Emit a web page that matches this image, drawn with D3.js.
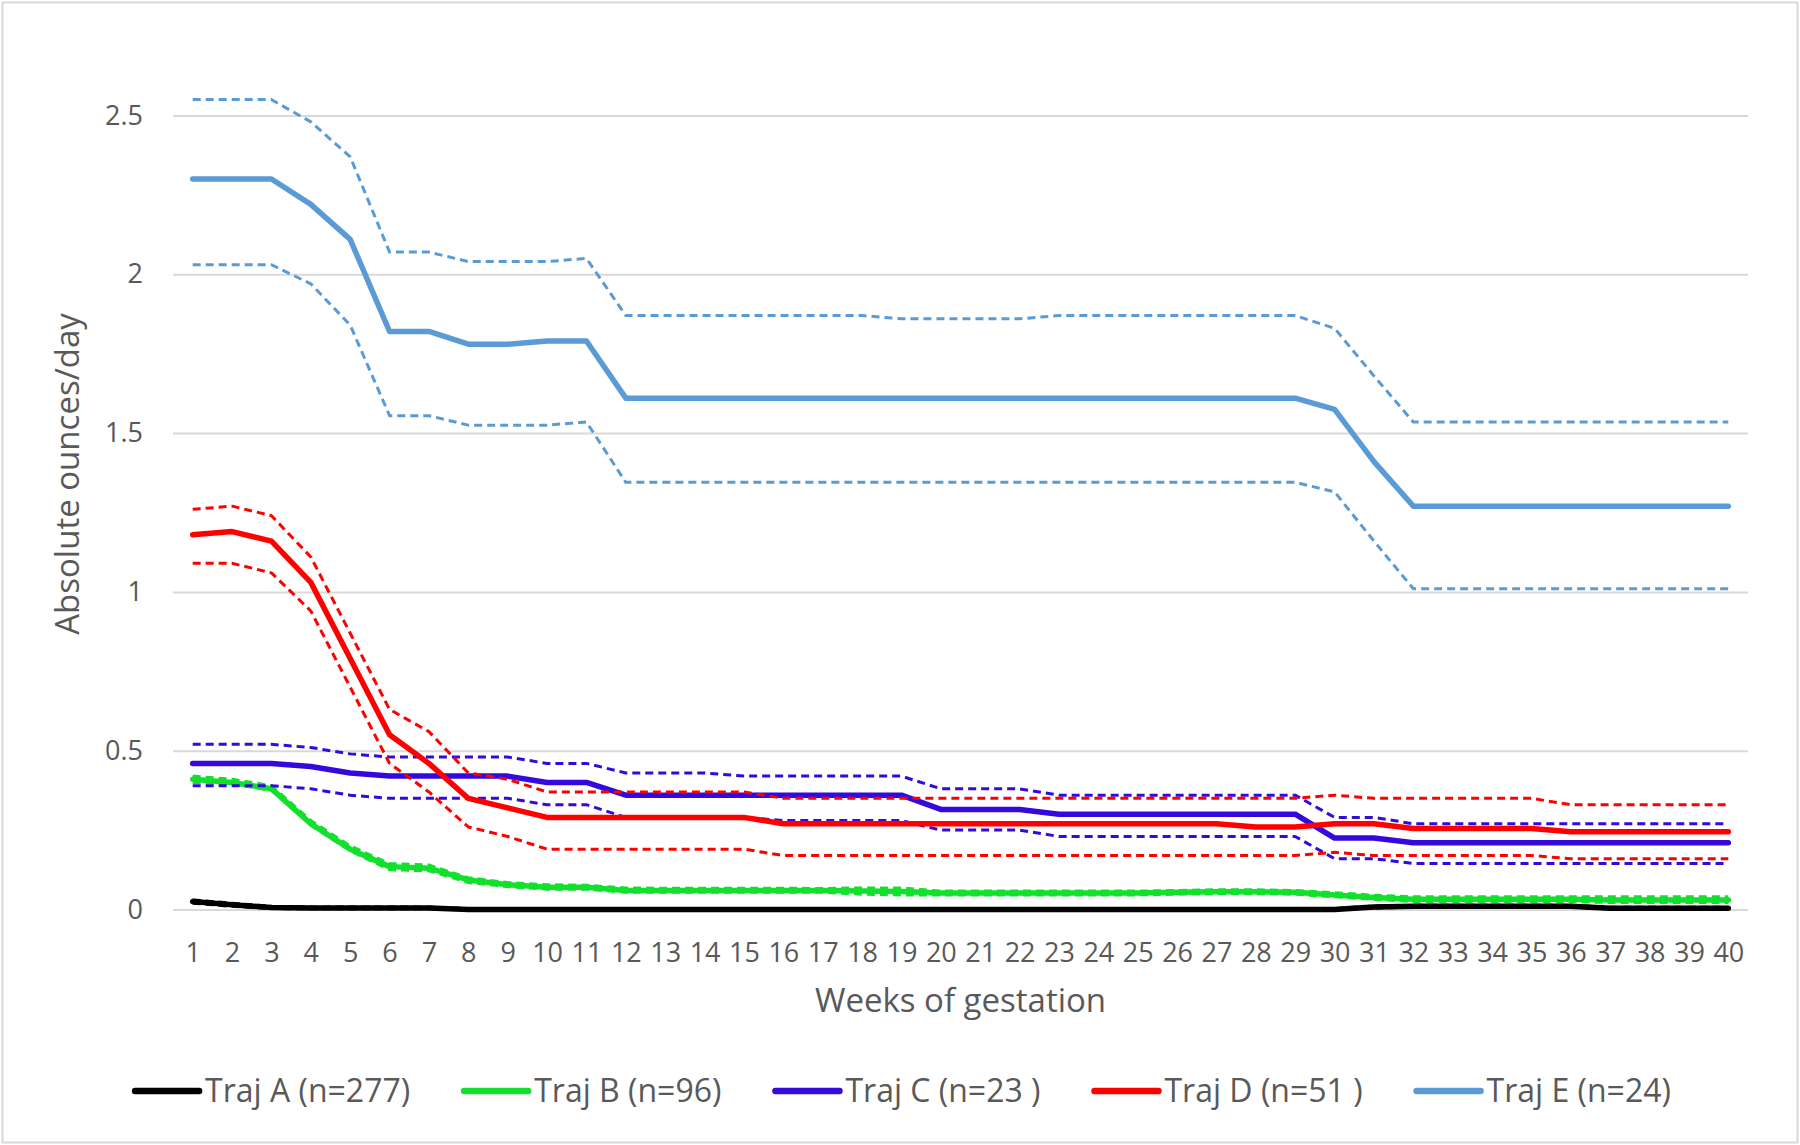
<!DOCTYPE html>
<html>
<head>
<meta charset="utf-8">
<script src="https://cdn.jsdelivr.net/npm/d3@7"></script>
<style>
  body { margin: 0; background: #fff; }
  svg { display: block; font-family: "Open Sans", sans-serif; }
</style>
</head>
<body>
<div class="chart"></div>
<script>
(function() {
  'use strict';

  var weeks = [1, 2, 3, 4, 5, 6, 7, 8, 9, 10, 11, 12, 13, 14, 15, 16, 17, 18, 19, 20,
    21, 22, 23, 24, 25, 26, 27, 28, 29, 30, 31, 32, 33, 34, 35, 36, 37, 38, 39, 40];
  var yTicks = [0, 0.5, 1, 1.5, 2, 2.5];

  var names = ["Traj A (n=277)", "Traj B (n=96)", "Traj C (n=23 )", "Traj D (n=51 )", "Traj E (n=24)"];
  var colors = ["#000000", "#12e02c", "#3409dc", "#ff0000", "#5b9bd5"];

  // Traj A
  var aMean = [0.025, 0.015, 0.006, 0.005, 0.005, 0.005, 0.005, 0, 0, 0, 0, 0, 0, 0, 0, 0, 0, 0, 0, 0,
    0, 0, 0, 0, 0, 0, 0, 0, 0, 0, 0.008, 0.01, 0.01, 0.01, 0.01, 0.01, 0.004, 0.004, 0.004, 0.004];
  var aUpper = [0.03, 0.02, 0.01, 0.008, 0.008, 0.008, 0.008, 0.003, 0.003, 0.003, 0.003, 0.003, 0.003, 0.003, 0.003, 0.003, 0.003, 0.003, 0.003, 0.003,
    0.003, 0.003, 0.003, 0.003, 0.003, 0.003, 0.003, 0.003, 0.003, 0.003, 0.011, 0.013, 0.013, 0.013, 0.013, 0.013, 0.007, 0.007, 0.007, 0.007];
  var aLower = [0.02, 0.01, 0.003, 0.002, 0.002, 0.002, 0.002, 0, 0, 0, 0, 0, 0, 0, 0, 0, 0, 0, 0, 0,
    0, 0, 0, 0, 0, 0, 0, 0, 0, 0, 0.005, 0.007, 0.007, 0.007, 0.007, 0.007, 0.002, 0.002, 0.002, 0.002];

  // Traj B
  var bMean = [0.41, 0.40, 0.38, 0.27, 0.19, 0.135, 0.13, 0.093, 0.078, 0.07, 0.07, 0.06, 0.06, 0.06, 0.06, 0.06, 0.06, 0.058, 0.057, 0.052,
    0.052, 0.052, 0.052, 0.052, 0.052, 0.054, 0.056, 0.056, 0.054, 0.046, 0.038, 0.032, 0.032, 0.032, 0.032, 0.032, 0.03, 0.03, 0.03, 0.03];
  var bUpper = [0.42, 0.41, 0.39, 0.28, 0.20, 0.145, 0.14, 0.10, 0.085, 0.078, 0.076, 0.068, 0.067, 0.067, 0.067, 0.067, 0.066, 0.068, 0.068, 0.058,
    0.058, 0.058, 0.058, 0.058, 0.058, 0.06, 0.062, 0.062, 0.06, 0.053, 0.045, 0.04, 0.04, 0.04, 0.04, 0.04, 0.04, 0.04, 0.04, 0.04];
  var bLower = [0.40, 0.395, 0.375, 0.265, 0.185, 0.125, 0.122, 0.085, 0.072, 0.064, 0.064, 0.054, 0.054, 0.054, 0.054, 0.054, 0.054, 0.048, 0.046, 0.046,
    0.046, 0.046, 0.046, 0.046, 0.046, 0.048, 0.05, 0.05, 0.048, 0.04, 0.032, 0.025, 0.025, 0.025, 0.025, 0.025, 0.022, 0.022, 0.022, 0.022];

  // Traj C
  var cMean = [0.46, 0.46, 0.46, 0.45, 0.43, 0.42, 0.42, 0.42, 0.42, 0.40, 0.40, 0.36, 0.36, 0.36, 0.36, 0.36, 0.36, 0.36, 0.36, 0.315,
    0.315, 0.315, 0.30, 0.30, 0.30, 0.30, 0.30, 0.30, 0.30, 0.225, 0.225, 0.21, 0.21, 0.21, 0.21, 0.21, 0.21, 0.21, 0.21, 0.21];
  var cUpper = [0.52, 0.52, 0.52, 0.51, 0.49, 0.48, 0.48, 0.48, 0.48, 0.46, 0.46, 0.43, 0.43, 0.43, 0.42, 0.42, 0.42, 0.42, 0.42, 0.38,
    0.38, 0.38, 0.36, 0.36, 0.36, 0.36, 0.36, 0.36, 0.36, 0.29, 0.29, 0.27, 0.27, 0.27, 0.27, 0.27, 0.27, 0.27, 0.27, 0.27];
  var cLower = [0.39, 0.39, 0.39, 0.38, 0.36, 0.35, 0.35, 0.35, 0.35, 0.33, 0.33, 0.29, 0.29, 0.29, 0.29, 0.28, 0.28, 0.28, 0.28, 0.25,
    0.25, 0.25, 0.23, 0.23, 0.23, 0.23, 0.23, 0.23, 0.23, 0.16, 0.16, 0.145, 0.145, 0.145, 0.145, 0.145, 0.145, 0.145, 0.145, 0.145];

  // Traj D
  var dMean = [1.18, 1.19, 1.16, 1.03, 0.79, 0.55, 0.46, 0.35, 0.32, 0.29, 0.29, 0.29, 0.29, 0.29, 0.29, 0.27, 0.27, 0.27, 0.27, 0.27,
    0.27, 0.27, 0.27, 0.27, 0.27, 0.27, 0.27, 0.26, 0.26, 0.27, 0.27, 0.255, 0.255, 0.255, 0.255, 0.245, 0.245, 0.245, 0.245, 0.245];
  var dUpper = [1.26, 1.27, 1.24, 1.11, 0.87, 0.63, 0.56, 0.43, 0.41, 0.37, 0.37, 0.37, 0.37, 0.37, 0.37, 0.35, 0.35, 0.35, 0.35, 0.35,
    0.35, 0.35, 0.35, 0.35, 0.35, 0.35, 0.35, 0.35, 0.35, 0.36, 0.35, 0.35, 0.35, 0.35, 0.35, 0.33, 0.33, 0.33, 0.33, 0.33];
  var dLower = [1.09, 1.09, 1.06, 0.94, 0.70, 0.46, 0.37, 0.26, 0.23, 0.19, 0.19, 0.19, 0.19, 0.19, 0.19, 0.17, 0.17, 0.17, 0.17, 0.17,
    0.17, 0.17, 0.17, 0.17, 0.17, 0.17, 0.17, 0.17, 0.17, 0.18, 0.17, 0.17, 0.17, 0.17, 0.17, 0.16, 0.16, 0.16, 0.16, 0.16];

  // Traj E
  var eMean = [2.30, 2.30, 2.30, 2.22, 2.11, 1.82, 1.82, 1.78, 1.78, 1.79, 1.79, 1.61, 1.61, 1.61, 1.61, 1.61, 1.61, 1.61, 1.61, 1.61,
    1.61, 1.61, 1.61, 1.61, 1.61, 1.61, 1.61, 1.61, 1.61, 1.575, 1.41, 1.27, 1.27, 1.27, 1.27, 1.27, 1.27, 1.27, 1.27, 1.27];
  var eUpper = [2.55, 2.55, 2.55, 2.48, 2.37, 2.07, 2.07, 2.04, 2.04, 2.04, 2.05, 1.87, 1.87, 1.87, 1.87, 1.87, 1.87, 1.87, 1.86, 1.86,
    1.86, 1.86, 1.87, 1.87, 1.87, 1.87, 1.87, 1.87, 1.87, 1.83, 1.68, 1.535, 1.535, 1.535, 1.535, 1.535, 1.535, 1.535, 1.535, 1.535];
  var eLower = [2.03, 2.03, 2.03, 1.97, 1.84, 1.555, 1.555, 1.525, 1.525, 1.525, 1.535, 1.345, 1.345, 1.345, 1.345, 1.345, 1.345, 1.345, 1.345, 1.345,
    1.345, 1.345, 1.345, 1.345, 1.345, 1.345, 1.345, 1.345, 1.345, 1.315, 1.16, 1.01, 1.01, 1.01, 1.01, 1.01, 1.01, 1.01, 1.01, 1.01];

  var means = [aMean, bMean, cMean, dMean, eMean];
  var uppers = [aUpper, bUpper, cUpper, dUpper, eUpper];
  var lowers = [aLower, bLower, cLower, dLower, eLower];

  var width = 1800;
  var height = 1145;
  var left = 173, right = 1748, top = 115.5, bottom = 909.5;

  var svg = d3.select(".chart").append("svg")
    .attr("width", width)
    .attr("height", height);

  svg.append("rect")
    .attr("x", 2.5).attr("y", 2.5)
    .attr("width", width - 5).attr("height", height - 5)
    .attr("fill", "#fff")
    .attr("stroke", "#d9d9d9")
    .attr("stroke-width", 2);

  var x = d3.scalePoint()
    .domain(weeks)
    .range([left, right])
    .padding(0.5);

  var y = d3.scaleLinear()
    .domain([0, 2.5])
    .range([bottom, top]);

  // gridlines
  svg.append("g")
    .attr("class", "grid")
    .attr("transform", "translate(" + left + ",0)")
    .call(d3.axisLeft(y).tickValues(yTicks).tickSize(-(right - left)).tickFormat(""))
    .call(function(g) {
      g.select(".domain").remove();
      g.selectAll("line").attr("stroke", "#d9d9d9").attr("stroke-width", 2);
    });

  // y axis labels
  svg.append("g")
    .attr("transform", "translate(" + left + ",0)")
    .call(d3.axisLeft(y).tickValues(yTicks).tickSize(0).tickPadding(30).tickFormat(d3.format("")))
    .call(function(g) {
      g.select(".domain").remove();
      g.selectAll("text")
        .attr("fill", "#595959")
        .style("font-size", "27px")
        .style("font-family", "'Open Sans', sans-serif");
    });

  // x axis labels
  svg.append("g")
    .attr("transform", "translate(0," + bottom + ")")
    .call(d3.axisBottom(x).tickSize(0).tickPadding(0))
    .call(function(g) {
      g.select(".domain").remove();
      g.selectAll("text")
        .attr("y", 52)
        .attr("dy", null)
        .attr("fill", "#595959")
        .style("font-size", "27px")
        .style("font-family", "'Open Sans', sans-serif");
    });

  svg.append("text")
    .attr("transform", "translate(79,474) rotate(-90)")
    .attr("text-anchor", "middle")
    .attr("fill", "#595959")
    .style("font-size", "33px")
    .text("Absolute ounces/day");

  svg.append("text")
    .attr("x", (left + right) / 2)
    .attr("y", 1012)
    .attr("text-anchor", "middle")
    .attr("fill", "#595959")
    .style("font-size", "33px")
    .text("Weeks of gestation");

  var line = d3.line()
    .x(function(d, i) { return x(weeks[i]); })
    .y(function(d) { return y(d); });

  var plot = svg.append("g").attr("class", "plot");

  names.forEach(function(name, k) {
    plot.append("path")
      .attr("d", line(means[k]))
      .attr("fill", "none")
      .attr("stroke", colors[k])
      .attr("stroke-width", 5.5)
      .attr("stroke-linejoin", "round")
      .attr("stroke-linecap", "round");

    [uppers[k], lowers[k]].forEach(function(s) {
      plot.append("path")
        .attr("d", line(s))
        .attr("fill", "none")
        .attr("stroke", colors[k])
        .attr("stroke-width", 3)
        .attr("stroke-dasharray", "8,5")
        .attr("stroke-linejoin", "round");
    });
  });

  // legend
  var legend = svg.append("g").attr("class", "legend");
  var entries = legend.selectAll("g")
    .data(names)
    .enter().append("g");

  entries.append("line")
    .attr("x1", 0).attr("x2", 64)
    .attr("y1", 0).attr("y2", 0)
    .attr("stroke", function(d, i) { return colors[i]; })
    .attr("stroke-width", 6.5)
    .attr("stroke-linecap", "round");

  entries.append("text")
    .attr("x", 70)
    .attr("y", 0)
    .attr("dy", "0.33em")
    .attr("fill", "#595959")
    .style("font-size", "32px")
    .style("white-space", "pre")
    .text(function(d) { return d; });

  var pos = 0, offsets = [];
  entries.each(function() {
    offsets.push(pos);
    pos += 70 + d3.select(this).select("text").node().getComputedTextLength() + 54;
  });
  var total = pos - 54;
  var start = 903 - total / 2;
  entries.attr("transform", function(d, i) {
    return "translate(" + (start + offsets[i]) + ",1091)";
  });
})();
</script>
</body>
</html>
